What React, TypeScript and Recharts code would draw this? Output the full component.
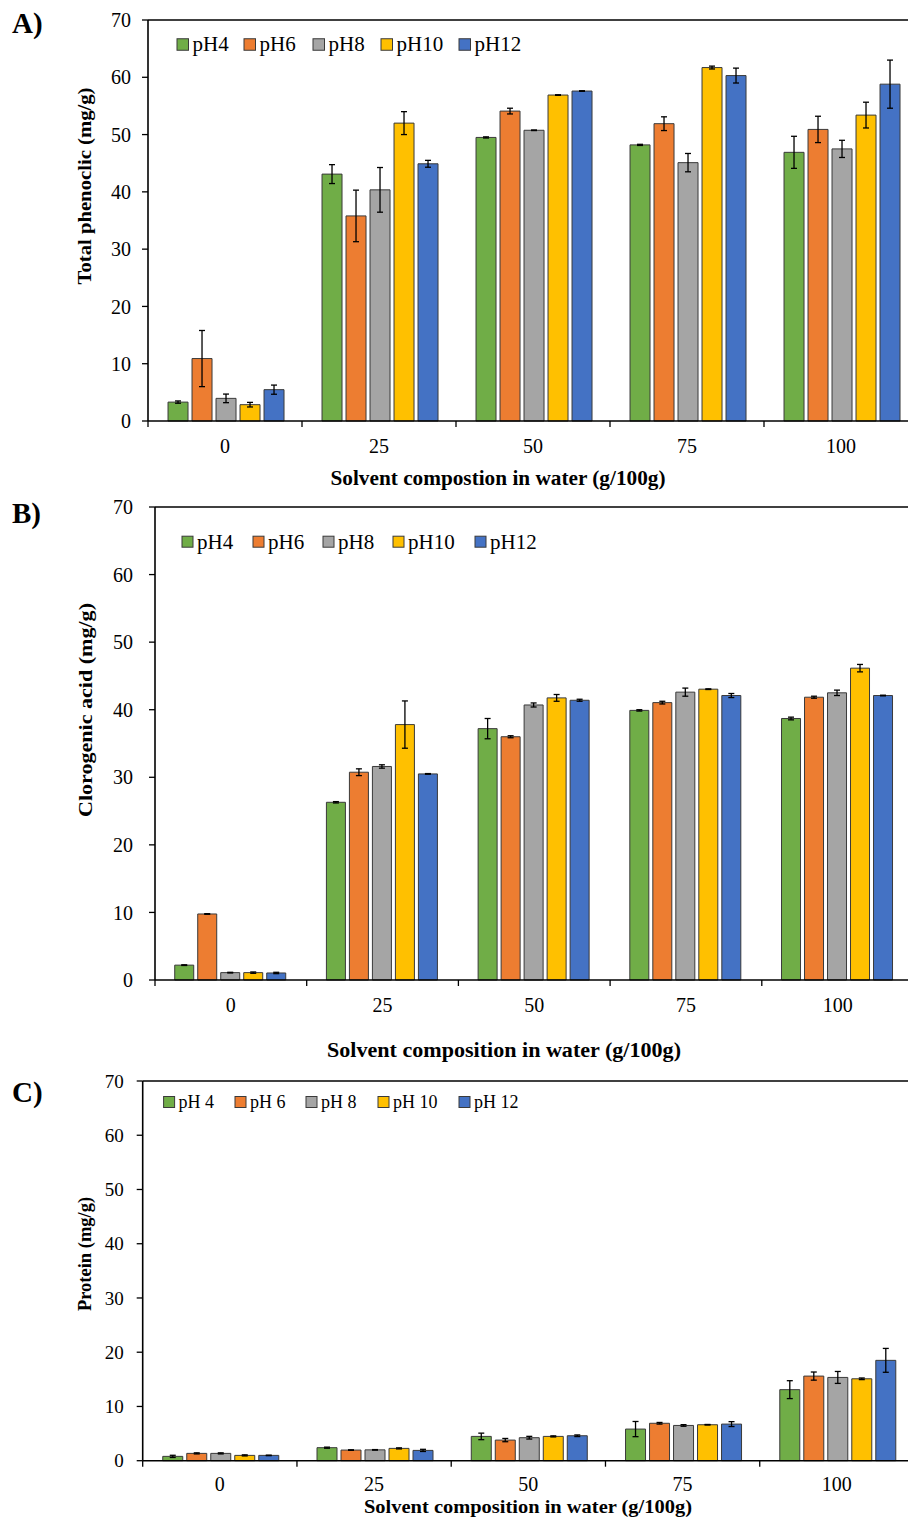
import React from 'react';
import { BarChart, Bar, XAxis, YAxis, ErrorBar, ReferenceLine } from 'recharts';

const CATEGORIES = ['0', '25', '50', '75', '100'];
const SERIES_KEYS = ['pH4', 'pH6', 'pH8', 'pH10', 'pH12'];
const LEGEND_AB = ['pH4', 'pH6', 'pH8', 'pH10', 'pH12'];
const LEGEND_C = ['pH 4', 'pH 6', 'pH 8', 'pH 10', 'pH 12'];
const COLORS = ['#70AD47', '#ED7D31', '#A5A5A5', '#FFC000', '#4472C4'];
const Y_TICKS = [0, 10, 20, 30, 40, 50, 60, 70];

// A) Total phenolic (mg/g)
const PHENOLIC = [
  [3.3, 43.1, 49.5, 48.2, 46.9],
  [10.9, 35.8, 54.1, 51.9, 50.9],
  [3.95, 40.35, 50.75, 45.1, 47.5],
  [2.85, 52.0, 56.9, 61.7, 53.4],
  [5.47, 44.9, 57.6, 60.3, 58.8],
];
const PHENOLIC_ERR = [
  [0.2, 1.65, 0.1, 0.1, 2.8],
  [4.9, 4.5, 0.5, 1.2, 2.3],
  [0.75, 3.9, 0.05, 1.6, 1.5],
  [0.4, 2.0, 0.05, 0.25, 2.25],
  [0.8, 0.6, 0.05, 1.3, 4.2],
];

// B) Chlorogenic acid (mg/g)
const CHLOROGENIC = [
  [2.2, 26.3, 37.2, 39.9, 38.7],
  [9.77, 30.75, 36.0, 41.05, 41.85],
  [1.09, 31.6, 40.7, 42.6, 42.5],
  [1.09, 37.8, 41.75, 43.04, 46.15],
  [1.04, 30.5, 41.4, 42.1, 42.1],
];
const CHLOROGENIC_ERR = [
  [0.05, 0.1, 1.5, 0.1, 0.2],
  [0.05, 0.5, 0.15, 0.2, 0.15],
  [0.05, 0.25, 0.3, 0.6, 0.4],
  [0.1, 3.5, 0.5, 0.05, 0.55],
  [0.1, 0.05, 0.15, 0.3, 0.05],
];

// C) Protein (mg/g)
const PROTEIN = [
  [0.8, 2.4, 4.48, 5.83, 13.1],
  [1.35, 1.96, 3.8, 6.9, 15.6],
  [1.35, 2.0, 4.24, 6.5, 15.35],
  [0.98, 2.27, 4.48, 6.63, 15.1],
  [0.98, 1.9, 4.6, 6.75, 18.5],
];
const PROTEIN_ERR = [
  [0.2, 0.1, 0.6, 1.4, 1.65],
  [0.1, 0.05, 0.3, 0.15, 0.75],
  [0.1, 0.05, 0.25, 0.15, 1.1],
  [0.1, 0.1, 0.1, 0.05, 0.15],
  [0.05, 0.2, 0.15, 0.45, 2.2],
];

const FONT = '"Liberation Serif", "Times New Roman", serif';
const CHART_W = 940;
const Y_AXIS_W = 60;

function buildRows(values: number[][], errs: number[][]) {
  return CATEGORIES.map((cat, i) => {
    const row: any = { cat };
    SERIES_KEYS.forEach((k, s) => {
      row[k] = values[s][i];
      row[k + '_err'] = errs[s][i];
    });
    return row;
  });
}

function makeTick(band: number, labelOffset: number) {
  return (props: any) => {
    const { x, y, payload, index } = props;
    return (
      <g>
        <line x1={x - band / 2} x2={x - band / 2} y1={y} y2={y + 6} stroke="#000" strokeWidth={1.3} />
        {index === CATEGORIES.length - 1 && (
          <line x1={x + band / 2} x2={x + band / 2} y1={y} y2={y + 6} stroke="#000" strokeWidth={1.3} />
        )}
        <text x={x} y={y + labelOffset} textAnchor="middle" fontSize={20} fontFamily={FONT} fill="#000">
          {payload.value}
        </text>
      </g>
    );
  };
}

type PanelProps = {
  rows: any[];
  top: number;
  height: number;
  margin: { top: number; left: number; right: number; bottom: number };
  yTickMargin: number;
  labelOffset: number;
  tickFont: number;
};

function Panel({ rows, top, height, margin, yTickMargin, labelOffset, tickFont }: PanelProps) {
  const band = (CHART_W - margin.left - margin.right - Y_AXIS_W) / CATEGORIES.length;
  return (
    <div style={{ position: 'absolute', left: 0, top, width: CHART_W, height }}>
      <BarChart width={CHART_W} height={height} data={rows} margin={margin} barCategoryGap="13%" barGap={4}>
        <XAxis
          dataKey="cat"
          type="category"
          height={30}
          axisLine={{ stroke: '#000', strokeWidth: 1.6 }}
          tickLine={false}
          tickSize={0}
          tickMargin={0}
          interval={0}
          tick={makeTick(band, labelOffset)}
        />
        <YAxis
          type="number"
          domain={[0, 70]}
          ticks={Y_TICKS}
          width={Y_AXIS_W}
          tickSize={6}
          tickMargin={yTickMargin}
          axisLine={{ stroke: '#000', strokeWidth: 1.6 }}
          tickLine={{ stroke: '#000', strokeWidth: 1.3 }}
          tick={{ fill: '#000', fontSize: tickFont, fontFamily: FONT }}
        />
        <ReferenceLine y={70} stroke="#000" strokeWidth={1.6} />
        {SERIES_KEYS.map((k, s) => (
          <Bar key={k} dataKey={k} fill={COLORS[s]} stroke="#3a3a3a" strokeWidth={1} isAnimationActive={false}>
            <ErrorBar dataKey={k + '_err'} width={3} stroke="#000" strokeWidth={1.3} direction="y" />
          </Bar>
        ))}
      </BarChart>
    </div>
  );
}

function Legend({ labels, xs, y, size, font }: { labels: string[]; xs: number[]; y: number; size: number; font: number }) {
  return (
    <g>
      {labels.map((l, i) => (
        <g key={l}>
          <rect x={xs[i]} y={y - size / 2} width={size} height={size} fill={COLORS[i]} stroke="#3a3a3a" strokeWidth={1} />
          <text x={xs[i] + size + 4} y={y + font * 0.33} fontSize={font} fontFamily={FONT} fill="#000">
            {l}
          </text>
        </g>
      ))}
    </g>
  );
}

export default function App() {
  const rowsA = buildRows(PHENOLIC, PHENOLIC_ERR);
  const rowsB = buildRows(CHLOROGENIC, CHLOROGENIC_ERR);
  const rowsC = buildRows(PROTEIN, PROTEIN_ERR);
  return (
    <div style={{ position: 'fixed', left: 0, top: 0, width: 908, height: 1518, overflow: 'hidden', background: '#fff' }}>
      <Panel rows={rowsA} top={0} height={500} margin={{ top: 20, left: 88, right: 22, bottom: 49 }} yTickMargin={11} labelOffset={32} tickFont={20} />
      <Panel rows={rowsB} top={490} height={600} margin={{ top: 17, left: 95, right: 26.5, bottom: 80 }} yTickMargin={16} labelOffset={32} tickFont={20} />
      <Panel rows={rowsC} top={1070} height={448} margin={{ top: 11, left: 82.7, right: 26, bottom: 27.3 }} yTickMargin={13} labelOffset={30} tickFont={19} />
      <svg width={908} height={1518} style={{ position: 'absolute', left: 0, top: 0, pointerEvents: 'none' }}>
        <text x={12} y={33} fontSize={29} fontWeight="bold" fontFamily={FONT}>A)</text>
        <text x={12} y={523} fontSize={29} fontWeight="bold" fontFamily={FONT}>B)</text>
        <text x={12} y={1102} fontSize={29} fontWeight="bold" fontFamily={FONT}>C)</text>

        <text transform="translate(91,186) rotate(-90)" textAnchor="middle" fontSize={18.5} fontWeight="bold" fontFamily={FONT} textLength={197} lengthAdjust="spacingAndGlyphs">
          Total phenoclic  (mg/g)
        </text>
        <text transform="translate(92,710) rotate(-90)" textAnchor="middle" fontSize={19} fontWeight="bold" fontFamily={FONT} textLength={214} lengthAdjust="spacingAndGlyphs">
          Clorogenic acid (mg/g)
        </text>
        <text transform="translate(91,1254) rotate(-90)" textAnchor="middle" fontSize={18.5} fontWeight="bold" fontFamily={FONT}>
          Protein (mg/g)
        </text>

        <text x={498} y={485} textAnchor="middle" fontSize={20} fontWeight="bold" fontFamily={FONT} textLength={335} lengthAdjust="spacingAndGlyphs">
          Solvent compostion in water (g/100g)
        </text>
        <text x={504} y={1057} textAnchor="middle" fontSize={20} fontWeight="bold" fontFamily={FONT} textLength={354} lengthAdjust="spacingAndGlyphs">
          Solvent composition in water (g/100g)
        </text>
        <text x={528} y={1513} textAnchor="middle" fontSize={19} fontWeight="bold" fontFamily={FONT} textLength={328} lengthAdjust="spacingAndGlyphs">
          Solvent composition in water (g/100g)
        </text>

        <Legend labels={LEGEND_AB} xs={[177, 244, 313, 381, 459]} y={44.5} size={11.5} font={21} />
        <Legend labels={LEGEND_AB} xs={[182, 253, 323, 393, 475]} y={541.7} size={11} font={21} />
        <Legend labels={LEGEND_C} xs={[163.6, 235, 306, 378, 459]} y={1102} size={11} font={18} />
      </svg>
    </div>
  );
}
